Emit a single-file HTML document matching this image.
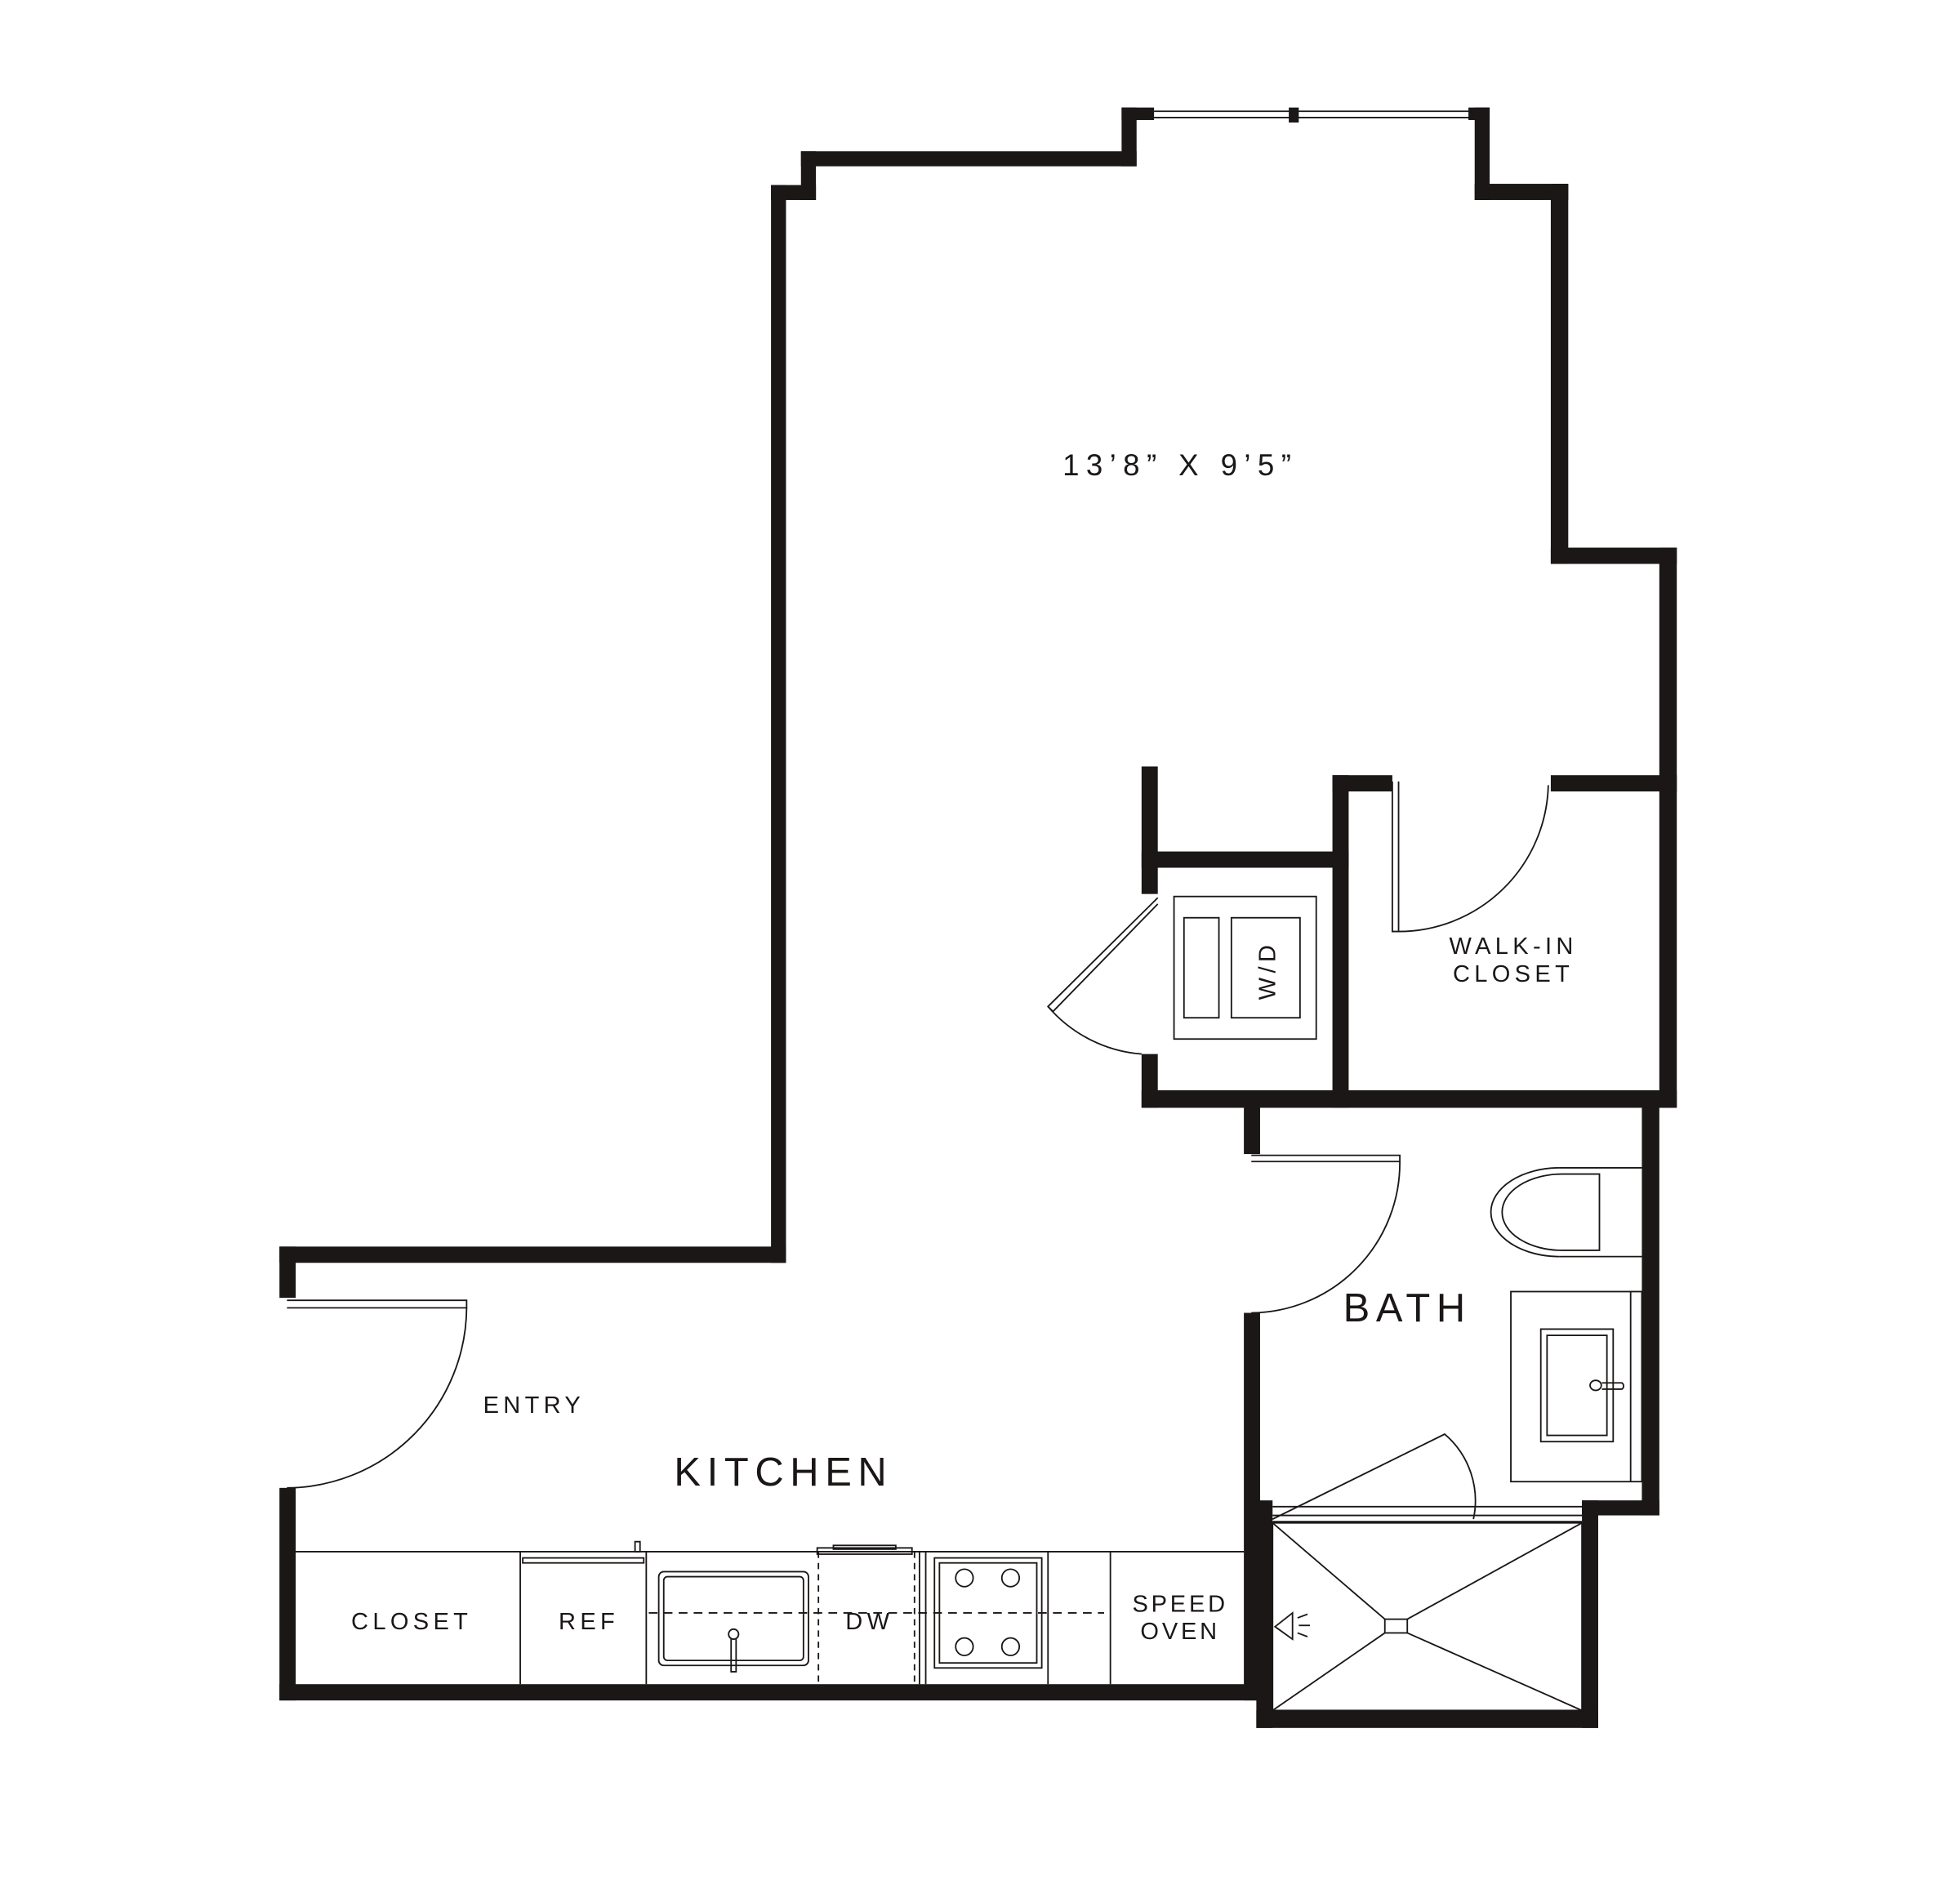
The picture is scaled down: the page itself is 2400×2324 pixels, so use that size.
<!DOCTYPE html>
<html><head><meta charset="utf-8"><style>
html,body{margin:0;padding:0;background:#fff;}
svg{display:block;}
text{font-family:"Liberation Sans",sans-serif;fill:#1a1716;}
</style></head><body>
<svg width="2400" height="2324" viewBox="0 0 1571 1518" preserveAspectRatio="none">
<g fill="#1a1716">
<rect x="899" y="86" width="12" height="47"/><rect x="899" y="86" width="26" height="10"/>
<rect x="642" y="121" width="269" height="12"/>
<rect x="642" y="121" width="12" height="39"/>
<rect x="618" y="148" width="36" height="12"/>
<rect x="618" y="148" width="12" height="862"/>
<rect x="224" y="997" width="406" height="13"/>
<rect x="224" y="997" width="13" height="41"/>
<rect x="224" y="1190" width="13" height="170"/>
<rect x="224" y="1347" width="786" height="13"/>
<rect x="997" y="885" width="13" height="38"/>
<rect x="997" y="1050" width="13" height="310"/>
<rect x="1007" y="1200" width="13" height="182"/>
<rect x="1007" y="1368" width="274" height="14"/>
<rect x="1268" y="1200" width="13" height="182"/>
<rect x="1268" y="1200" width="62" height="12"/>
<rect x="1316" y="874" width="14" height="338"/>
<rect x="915" y="872" width="429" height="14"/>
<rect x="1330" y="438" width="14" height="448"/>
<rect x="1243" y="438" width="101" height="13"/>
<rect x="1243" y="147" width="14" height="304"/>
<rect x="1182" y="147" width="75" height="13"/>
<rect x="1182" y="86" width="12" height="74"/><rect x="1177" y="86" width="17" height="10"/>
<rect x="1033" y="86" width="8" height="12"/>
<rect x="1068" y="620" width="48" height="13"/>
<rect x="1243" y="620" width="101" height="13"/>
<rect x="1068" y="620" width="13" height="266"/>
<rect x="915" y="613" width="13" height="102"/>
<rect x="915" y="681" width="166" height="13"/>
<rect x="915" y="843" width="13" height="43"/>
</g>
<g fill="none" stroke="#1a1716" stroke-width="1.2">
<line x1="925" y1="89" x2="1180" y2="89"/><line x1="925" y1="94" x2="1180" y2="94"/>
<path d="M928,718 L840,805 L844,809 L928,723"/>
<path d="M840,805 A110,110 0 0 0 915,843"/>
<rect x="941" y="717" width="114" height="114"/>
<rect x="949" y="734" width="28" height="80"/>
<rect x="987" y="734" width="55" height="80"/>
<path d="M1116,625 V745 H1121 V625"/>
<path d="M1121,745 A120,120 0 0 0 1241,628"/>
<path d="M1003,924 H1122 V929 H1003"/>
<path d="M1122,929 A120,120 0 0 1 1003,1050"/>
<path d="M230,1040 H374 V1046 H230"/>
<path d="M374,1046 A145,145 0 0 1 230,1190"/>
<line x1="1250" y1="934" x2="1316" y2="934"/><line x1="1250" y1="1005" x2="1316" y2="1005"/>
<path d="M1250,934 A55,35.5 0 0 0 1250,1005"/>
<path d="M1282,939 V1000 H1252 A48,30.5 0 0 1 1252,939 Z"/>
<rect x="1211" y="1033" width="105" height="152"/>
<line x1="1307" y1="1033" x2="1307" y2="1185"/>
<rect x="1235" y="1063" width="58" height="90"/>
<rect x="1240" y="1068" width="48" height="80"/>
<ellipse cx="1279" cy="1108" rx="4.5" ry="4"/>
<path d="M1284,1106 H1300 A3,3 0 0 1 1300,1111 H1284"/>
<line x1="1020" y1="1205" x2="1268" y2="1205"/><line x1="1020" y1="1212" x2="1268" y2="1212"/><line x1="1020" y1="1217" x2="1268" y2="1217"/>
<path d="M1020,1215 L1158,1147 A70,70 0 0 1 1181,1215"/>
<rect x="1020" y="1218" width="248" height="150"/>
<rect x="1110" y="1295" width="18" height="11"/>
<line x1="1020" y1="1218" x2="1110" y2="1295"/><line x1="1268" y1="1218" x2="1128" y2="1295"/>
<line x1="1020" y1="1368" x2="1110" y2="1306"/><line x1="1268" y1="1368" x2="1128" y2="1306"/>
<path d="M1036,1290 L1022,1301 L1036,1311 Z"/>
<line x1="1040" y1="1294" x2="1048" y2="1291"/><line x1="1041" y1="1300" x2="1050" y2="1300"/><line x1="1040" y1="1306" x2="1048" y2="1309"/>
<line x1="237" y1="1241" x2="997" y2="1241"/>
<line x1="417" y1="1241" x2="417" y2="1347"/>
<line x1="518" y1="1241" x2="518" y2="1347"/>
<line x1="742" y1="1241" x2="742" y2="1347"/>
<line x1="840" y1="1241" x2="840" y2="1347"/>
<line x1="890" y1="1241" x2="890" y2="1347"/>
<line x1="737" y1="1241" x2="737" y2="1347"/>
<line x1="656" y1="1241" x2="656" y2="1347" stroke-dasharray="5,4"/>
<line x1="733" y1="1241" x2="733" y2="1347" stroke-dasharray="5,4"/>
<line x1="520" y1="1290" x2="885" y2="1290" stroke-dasharray="7,5"/>
<rect x="419" y="1246" width="97" height="4"/>
<rect x="509" y="1233" width="4" height="8"/>
<rect x="528" y="1257" width="120" height="75" rx="4"/>
<rect x="532" y="1261" width="112" height="67" rx="3"/>
<circle cx="588" cy="1307" r="4"/><path d="M586,1311 V1337 H590 V1311"/>
<rect x="655" y="1238" width="76" height="5"/><rect x="668" y="1236" width="50" height="3"/>
<rect x="749" y="1246" width="86" height="88"/>
<rect x="753" y="1250" width="78" height="80"/>
<circle cx="773" cy="1262" r="7"/><circle cx="810" cy="1262" r="7"/>
<circle cx="773" cy="1317" r="7"/><circle cx="810" cy="1317" r="7"/>
</g>
<g text-anchor="middle">
<text x="946" y="380" font-size="24" letter-spacing="5.5">13’8”  X  9’5”</text>
<text x="628" y="1188" font-size="32" letter-spacing="5">KITCHEN</text>
<text x="1128" y="1057" font-size="32" letter-spacing="5">BATH</text>
<text x="428" y="1130" font-size="19" letter-spacing="3.5">ENTRY</text>
<text x="1213" y="763" font-size="19" letter-spacing="3.5">WALK-IN</text>
<text x="1213" y="785" font-size="19" letter-spacing="3.5">CLOSET</text>
<text x="330" y="1303" font-size="19" letter-spacing="3.5">CLOSET</text>
<text x="472" y="1303" font-size="19" letter-spacing="3.5">REF</text>
<text x="697" y="1303" font-size="19" letter-spacing="3.5">DW</text>
<text x="946" y="1289" font-size="19" letter-spacing="2.5">SPEED</text>
<text x="946" y="1311" font-size="19" letter-spacing="2.5">OVEN</text>
<text x="0" y="0" font-size="19" letter-spacing="3.5" transform="translate(1022,776) rotate(-90)">W/D</text>
</g>
</svg>
</body></html>
